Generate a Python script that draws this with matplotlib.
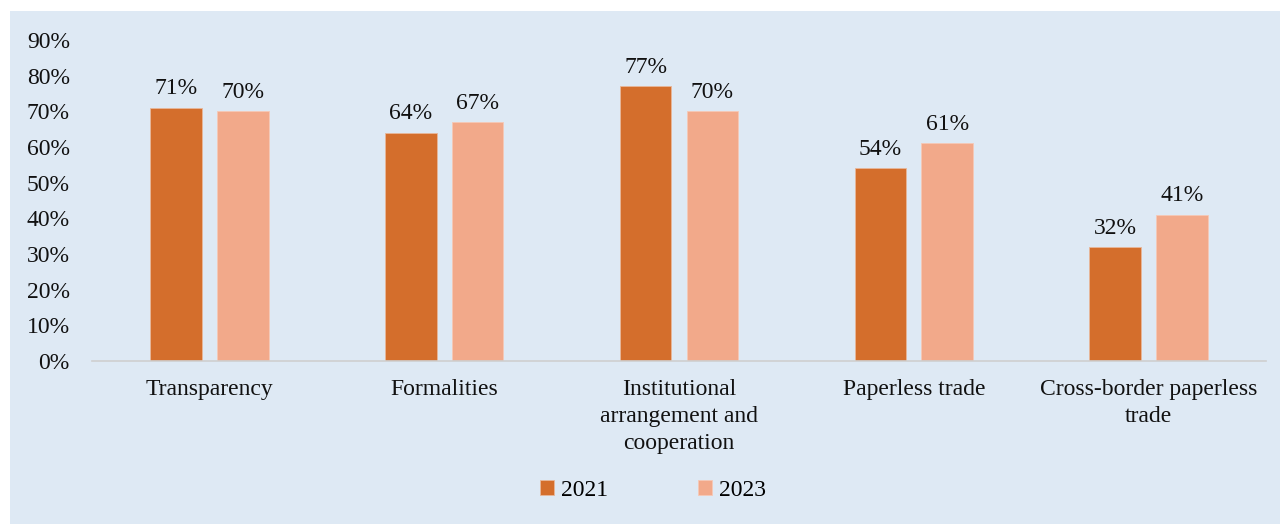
import matplotlib.pyplot as plt
import numpy as np

# dados do gráfico
categorias = ['Transparency', 'Formalities', 'Institutional\narrangement and\ncooperation',
              'Paperless trade', 'Cross-border paperless\ntrade']
anos = ['2021', '2023']
valores_2021 = [0.71, 0.64, 0.77, 0.54, 0.32]
valores_2023 = [0.70, 0.67, 0.70, 0.61, 0.41]

cor_2021 = '#D46E2C'
cor_2023 = '#F2A98A'
fundo = '#DEE9F4'

plt.rcParams['font.family'] = ['Liberation Serif', 'DejaVu Serif']

fig = plt.figure(figsize=(12.8, 5.24), dpi=100)
fig.patch.set_facecolor('white')
# painel azul claro
fig.patches.append(plt.Rectangle((10 / 1280, 0), 1, (524 - 11) / 524,
                                 transform=fig.transFigure, facecolor=fundo,
                                 edgecolor='none', zorder=-10))

ax = fig.add_axes([92 / 1280, 163 / 524, (1266 - 92) / 1280, (361 - 40) / 524])
ax.set_facecolor('none')

x = np.arange(len(categorias))
largura = 0.22
desloc = 0.142

b1 = ax.bar(x - desloc, valores_2021, largura, color=cor_2021, edgecolor='#E8B79A',
            linewidth=0.6, label=anos[0])
b2 = ax.bar(x + desloc, valores_2023, largura, color=cor_2023, edgecolor='#F6C9B6',
            linewidth=0.6, label=anos[1])

for barras in (b1, b2):
    for b in barras:
        ax.annotate(f'{b.get_height() * 100:.0f}%',
                    (b.get_x() + b.get_width() / 2, b.get_height()),
                    xytext=(0, 6), textcoords='offset points',
                    ha='center', va='bottom', fontsize=17, color='#111111')

ax.set_xlim(-0.5, len(categorias) - 0.5)
ax.set_ylim(0, 0.9)
ax.set_yticks(np.arange(0, 0.91, 0.1))
ax.set_yticklabels([f'{v}%' for v in range(0, 91, 10)], fontsize=17)
ax.set_xticks(x)
ax.set_xticklabels(categorias, fontsize=17, linespacing=1.38)
ax.tick_params(axis='both', length=0, colors='#111111')
ax.tick_params(axis='x', pad=13)
ax.tick_params(axis='y', pad=16)

for lado in ['top', 'right', 'left']:
    ax.spines[lado].set_visible(False)
ax.spines['bottom'].set_color('#CFCFCF')
ax.spines['bottom'].set_linewidth(1.2)

leg = fig.legend(loc='center', bbox_to_anchor=(653 / 1280, 1 - 490 / 524), ncol=2,
                 frameon=False, fontsize=17, handlelength=0.6, handleheight=0.6,
                 handletextpad=0.3, columnspacing=3.8)

fig.savefig('out.png', dpi=100, facecolor=fig.get_facecolor())
